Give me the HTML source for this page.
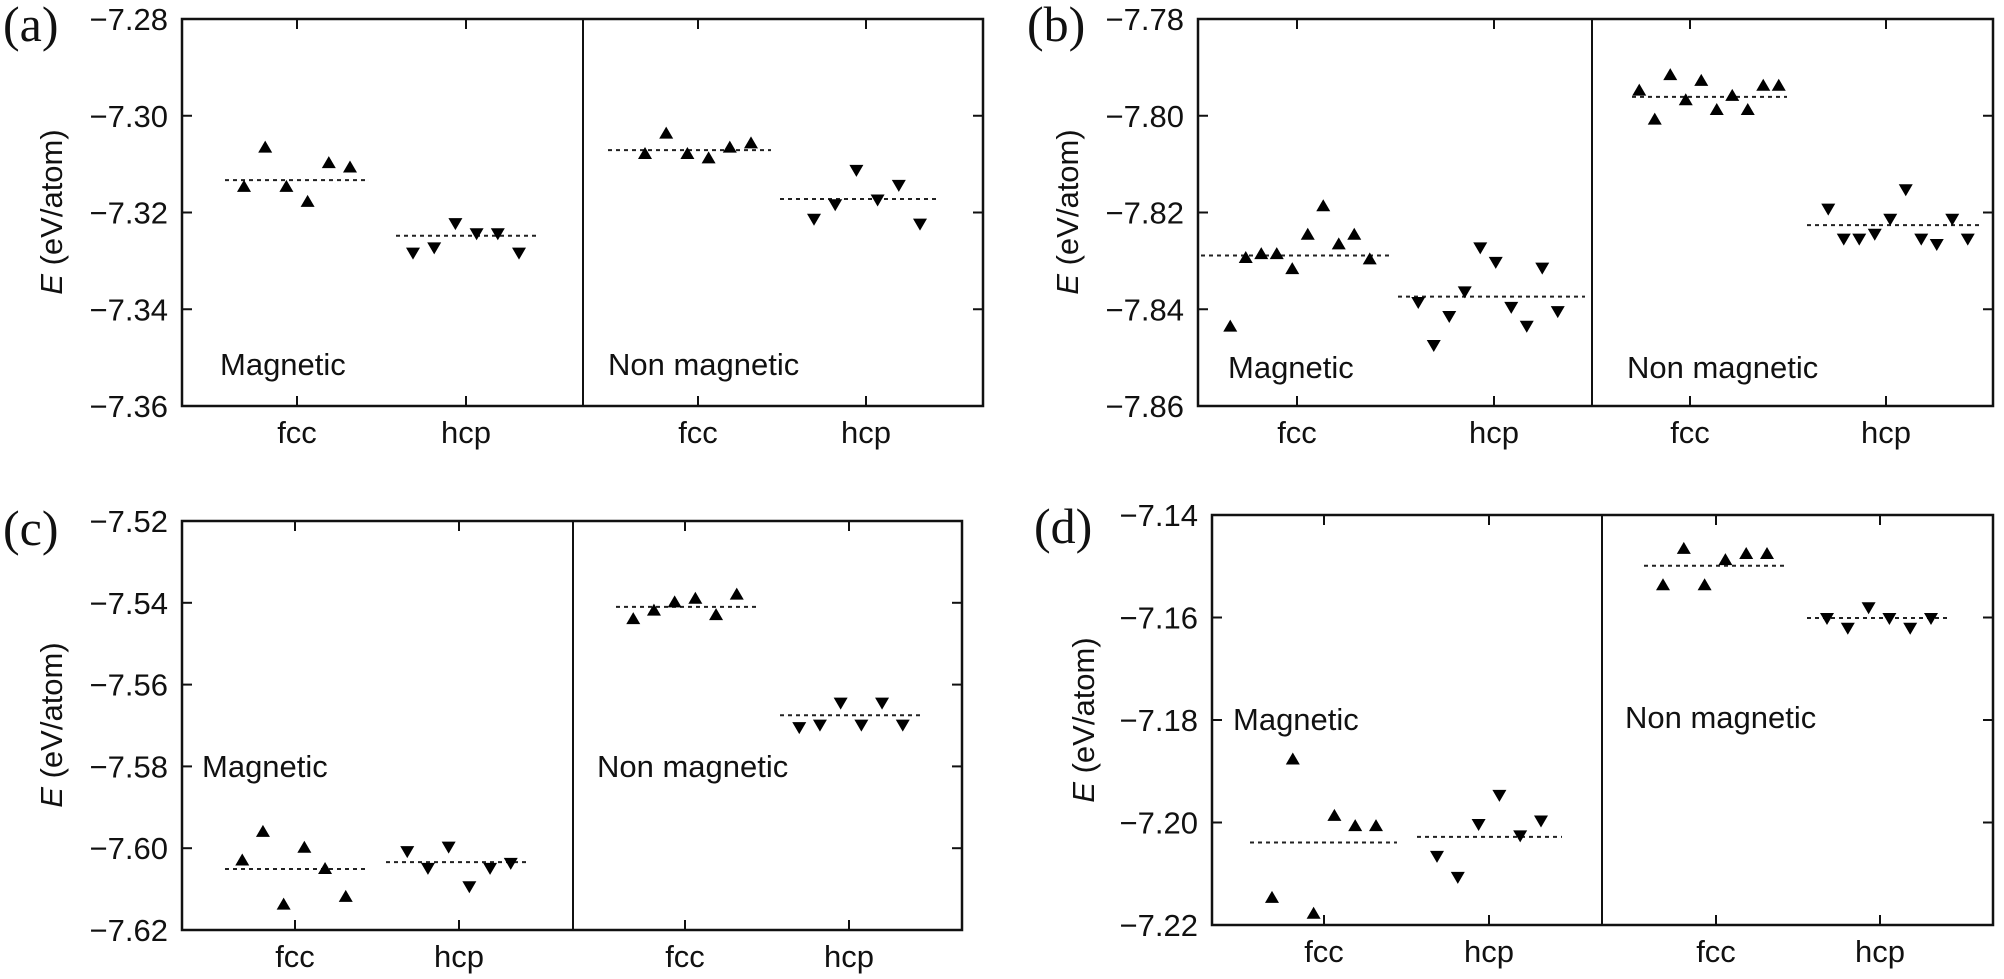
<!DOCTYPE html>
<html><head><meta charset="utf-8"><style>
html,body{margin:0;padding:0;background:#fff;}
svg{display:block;font-family:"Liberation Sans",Arial,sans-serif;}
</style></head><body>
<svg id="fig" width="2004" height="979" viewBox="0 0 2004 979" xmlns="http://www.w3.org/2000/svg"></svg>
<script>
// ---------- data (eV/atom) ----------
const categories = ["fcc","hcp","fcc","hcp"];
const groupLabels = ["Magnetic","Non magnetic"];
const ticksA = ["−7.28","−7.30","−7.32","−7.34","−7.36"];
const ticksB = ["−7.78","−7.80","−7.82","−7.84","−7.86"];
const ticksC = ["−7.52","−7.54","−7.56","−7.58","−7.60","−7.62"];
const ticksD = ["−7.14","−7.16","−7.18","−7.20","−7.22"];
const tickValsA = [-7.28,-7.30,-7.32,-7.34,-7.36];
const tickValsB = [-7.78,-7.80,-7.82,-7.84,-7.86];
const tickValsC = [-7.52,-7.54,-7.56,-7.58,-7.60,-7.62];
const tickValsD = [-7.14,-7.16,-7.18,-7.20,-7.22];

const aMagFcc = [-7.3147,-7.3066,-7.3147,-7.3178,-7.3098,-7.3107];
const aMagHcp = [-7.3283,-7.3272,-7.3222,-7.3243,-7.3243,-7.3283];
const aNmFcc  = [-7.3079,-7.3037,-7.3079,-7.3088,-7.3066,-7.3057];
const aNmHcp  = [-7.3213,-7.3183,-7.3112,-7.3173,-7.3143,-7.3223];
const aMeans  = [-7.3133,-7.3248,-7.3071,-7.3172];

const bMagFcc = [-7.8436,-7.8294,-7.8286,-7.8286,-7.8317,-7.8246,-7.8187,-7.8266,-7.8246,-7.8297];
const bMagHcp = [-7.8385,-7.8474,-7.8414,-7.8363,-7.8272,-7.8302,-7.8395,-7.8434,-7.8314,-7.8404];
const bNmFcc  = [-7.7948,-7.8008,-7.7916,-7.7968,-7.7928,-7.7988,-7.7959,-7.7988,-7.7938,-7.7938];
const bNmHcp  = [-7.8192,-7.8254,-7.8254,-7.8244,-7.8213,-7.8152,-7.8254,-7.8265,-7.8213,-7.8254];
const bMeans  = [-7.8289,-7.8374,-7.7961,-7.8226];

const cMagFcc = [-7.6030,-7.5960,-7.6138,-7.5999,-7.6051,-7.6119];
const cMagHcp = [-7.6007,-7.6048,-7.5996,-7.6093,-7.6048,-7.6036];
const cNmFcc  = [-7.5440,-7.5419,-7.5399,-7.5390,-7.5430,-7.5380];
const cNmHcp  = [-7.5704,-7.5698,-7.5644,-7.5698,-7.5644,-7.5698];
const cMeans  = [-7.6051,-7.6034,-7.5410,-7.5675];

const dMagFcc = [-7.2147,-7.1877,-7.2178,-7.1987,-7.2007,-7.2007];
const dMagHcp = [-7.2065,-7.2106,-7.2003,-7.1946,-7.2025,-7.1996];
const dNmFcc  = [-7.1537,-7.1466,-7.1537,-7.1488,-7.1476,-7.1476];
const dNmHcp  = [-7.1601,-7.1620,-7.1580,-7.1601,-7.1620,-7.1601];
const dMeans  = [-7.2039,-7.2028,-7.1499,-7.1601];

// ---------- layout ----------
const NS = "http://www.w3.org/2000/svg";
const svg = document.getElementById('fig');
function mk(tag, attrs, parent){
  const e = document.createElementNS(NS, tag);
  for (const k in attrs) e.setAttribute(k, attrs[k]);
  (parent||svg).appendChild(e);
  return e;
}
const panels = [
  {id:'a', L:182,R:983,T:19,B:406,div:583, lab:[3,41], yt:[50,212], tl:ticksA, tv:tickValsA,
   xt:[297,466,698,866], series:[aMagFcc,aMagHcp,aNmFcc,aNmHcp], means:aMeans,
   cx:[297,466,698,867], sp:21.2, line:[[225,369],[396,538],[608,771],[780,939]],
   glab:[[220,375],[608,375]]},
  {id:'b', L:1198,R:1993,T:19,B:406,div:1592, lab:[1027,41], yt:[1066,212], tl:ticksB, tv:tickValsB,
   xt:[1297,1494,1690,1886], series:[bMagFcc,bMagHcp,bNmFcc,bNmHcp], means:bMeans,
   cx:[1300,1488,1709,1898], sp:15.5, line:[[1201,1391],[1398,1585],[1632,1787],[1807,1981]],
   glab:[[1228,378],[1627,378]]},
  {id:'c', L:182,R:962,T:521,B:930,div:573, lab:[3,545], yt:[50,725], tl:ticksC, tv:tickValsC,
   xt:[295,459,685,849], series:[cMagFcc,cMagHcp,cNmFcc,cNmHcp], means:cMeans,
   cx:[294,459,685,851], sp:20.7, line:[[225,366],[386,529],[616,758],[780,920]],
   glab:[[202,777],[597,777]]},
  {id:'d', L:1212,R:1993,T:515,B:925,div:1602, lab:[1034,543], yt:[1082,720], tl:ticksD, tv:tickValsD,
   xt:[1324,1489,1716,1880], series:[dMagFcc,dMagHcp,dNmFcc,dNmHcp], means:dMeans,
   cx:[1324,1489,1715,1879], sp:20.8, line:[[1250,1397],[1417,1562],[1644,1787],[1807,1949]],
   glab:[[1233,730],[1625,728]]}
];

panels.forEach(p=>{
  const g = mk('g',{});
  
  
  const v0 = p.tv[0], v1 = p.tv[p.tv.length-1];
  const yScale = v => p.T + (v0 - v)/(v0 - v1)*(p.B - p.T);

  const lab = mk('text',{x:p.lab[0],y:p.lab[1],'font-family':'"Liberation Serif",serif','font-size':50,fill:'#111'},g);
  lab.textContent = '(' + p.id + ')';
  
  

  const yt = mk('text',{transform:`translate(${p.yt[0]+12},${p.yt[1]}) rotate(-90)`,'text-anchor':'middle','font-size':31,fill:'#111'},g);
  yt.innerHTML = '<tspan font-style="italic">E</tspan> (eV/atom)';
  
  

  const box = mk('rect',{x:p.L,y:p.T,width:p.R-p.L,height:p.B-p.T,fill:'none',stroke:'#111','stroke-width':2.5},g);
  
  
  const dv = mk('line',{x1:p.div,x2:p.div,y1:p.T,y2:p.B,stroke:'#111','stroke-width':2},g);
  
  

  p.tv.forEach((v,i)=>{
    const y = yScale(v);
    mk('line',{x1:p.L,x2:p.L+10,y1:y,y2:y,stroke:'#111','stroke-width':2},g);
    mk('line',{x1:p.R-10,x2:p.R,y1:y,y2:y,stroke:'#111','stroke-width':2},g);
    const t = mk('text',{x:p.L-14,y:y+11,'text-anchor':'end','font-size':31,fill:'#111'},g);
    t.textContent = p.tl[i];
    
    
  });
  p.xt.forEach((x,i)=>{
    mk('line',{x1:x,x2:x,y1:p.T,y2:p.T+10,stroke:'#111','stroke-width':2},g);
    mk('line',{x1:x,x2:x,y1:p.B-10,y2:p.B,stroke:'#111','stroke-width':2},g);
    const t = mk('text',{x:x,y:p.B+37,'text-anchor':'middle','font-size':31,fill:'#111'},g);
    t.textContent = categories[i];
    
    
  });
  groupLabels.forEach((s,i)=>{
    const t = mk('text',{x:p.glab[i][0],y:p.glab[i][1],'font-size':31,fill:'#111'},g);
    t.textContent = s;
    
    
  });
  p.means.forEach((m,i)=>{
    const y = yScale(m);
    const ln = mk('line',{x1:p.line[i][0],x2:p.line[i][1],y1:y,y2:y,stroke:'#222','stroke-width':2,'stroke-dasharray':'4 4'},g);
    
    
  });
  p.series.forEach((arr,si)=>{
    const up = (si % 2 === 0);
    const n = arr.length;
    arr.forEach((v,i)=>{
      const x = p.cx[si] + (i - (n-1)/2)*p.sp;
      const y = yScale(v);
      const pts = up ? `${x-7},${y+5} ${x+7},${y+5} ${x},${y-7}` : `${x-7},${y-5} ${x+7},${y-5} ${x},${y+7}`;
      const tri = mk('polygon',{points:pts,fill:'#000'},g);
      
      
    });
  });
});
</script>
</body></html>
